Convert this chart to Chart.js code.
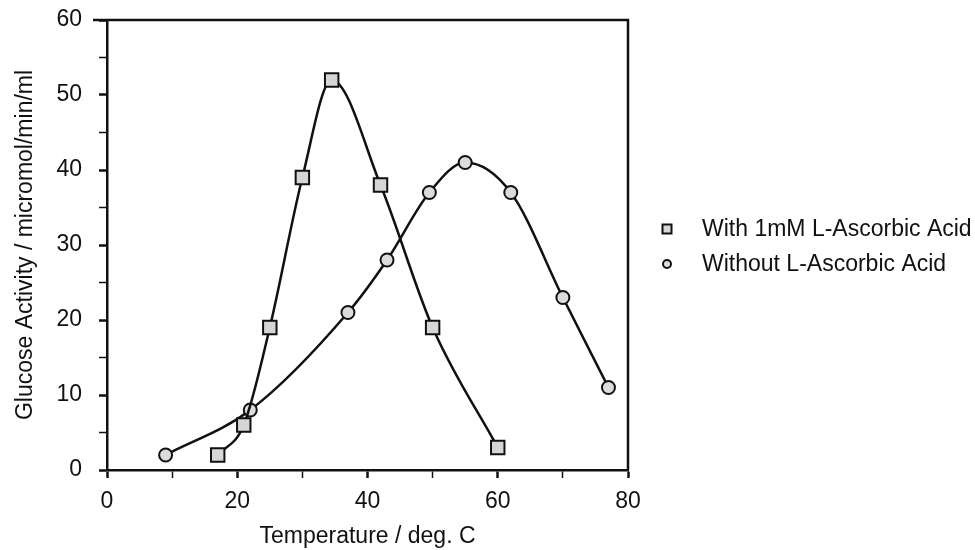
<!DOCTYPE html>
<html>
<head>
<meta charset="utf-8">
<script src="https://cdn.jsdelivr.net/npm/chart.js@4/dist/chart.umd.min.js"></script>
<style>
    html, body { margin: 0; padding: 0; background: #fff; }
    #wrap { width: 975px; height: 550px; }
</style>
</head>
<body>
<div id="wrap"><canvas id="chart" width="975" height="550"></canvas></div>
<script>
"use strict";

// values
const tempWithAcid = [17, 21, 25, 30, 34.5, 42, 50, 60];
const activityWithAcid = [2, 6, 19, 39, 52, 38, 19, 3];
const tempWithoutAcid = [9, 22, 37, 43, 49.5, 55, 62, 70, 77];
const activityWithoutAcid = [2, 8, 21, 28, 37, 41, 37, 23, 11];
const seriesLabels = ["With 1mM L-Ascorbic Acid", "Without L-Ascorbic Acid"];
const xTickLabels = [0, 20, 40, 60, 80];
const yTickLabels = [0, 10, 20, 30, 40, 50, 60];

const kFont = "'Liberation Sans', Arial, Helvetica, sans-serif";
const kFontSize = 23;

function toPoints(xs, ys) {
    return xs.map((x, i) => ({ x, y: ys[i] }));
}

// frame on top/right plus a small legend to the right of the plot
const framePlugin = {
    id: "frame",
    afterDraw(chart) {
        const { ctx, chartArea } = chart;
        ctx.save();
        ctx.strokeStyle = "#111";
        ctx.lineWidth = 2.5;
        ctx.beginPath();
        ctx.moveTo(chartArea.left - 14, chartArea.top);
        ctx.lineTo(chartArea.right, chartArea.top);
        ctx.lineTo(chartArea.right, chartArea.bottom);
        ctx.stroke();

        ctx.font = `${kFontSize}px ${kFont}`;
        ctx.textBaseline = "middle";
        chart.data.datasets.forEach((ds, i) => {
            const y = 229 + i * 35;
            const x = chartArea.right + 39;
            ctx.fillStyle = ds.pointBackgroundColor;
            ctx.strokeStyle = "#111";
            ctx.lineWidth = 2;
            ctx.beginPath();
            if (ds.pointStyle === "rect") {
                ctx.rect(x - 4.5, y - 4.5, 9, 9);
            } else {
                ctx.arc(x, y, 4, 0, Math.PI * 2);
            }
            ctx.fill();
            ctx.stroke();
            ctx.fillStyle = "#111";
            ctx.fillText(ds.label, x + 35, y + 1);
        });
        ctx.restore();
    }
};

document.addEventListener("DOMContentLoaded", () => {
    const commonLine = {
        borderColor: "#111",
        borderWidth: 2.5,
        pointBorderColor: "#111",
        pointBorderWidth: 2,
        cubicInterpolationMode: "monotone",
        fill: false
    };
    const tickFont = { family: kFont, size: kFontSize };

    new Chart(document.getElementById("chart").getContext("2d"), {
        type: "line",
        data: {
            datasets: [{
                ...commonLine,
                label: seriesLabels[0],
                data: toPoints(tempWithAcid, activityWithAcid),
                pointStyle: "rect",
                pointRadius: 9.5,
                pointBackgroundColor: "#d6d6d6"
            }, {
                ...commonLine,
                label: seriesLabels[1],
                data: toPoints(tempWithoutAcid, activityWithoutAcid),
                pointStyle: "circle",
                pointRadius: 6.5,
                pointBackgroundColor: "#dcdcdc"
            }]
        },
        options: {
            responsive: false,
            animation: false,
            layout: { padding: { left: 0, top: 20, right: 347, bottom: 0 } },
            plugins: {
                legend: { display: false },
                tooltip: { enabled: false }
            },
            scales: {
                x: {
                    type: "linear",
                    min: 0,
                    max: 80,
                    afterFit(scale) {
                        scale.height = 80;
                        scale.paddingRight = 0;
                    },
                    border: { display: true, color: "#111", width: 2.5 },
                    grid: {
                        drawOnChartArea: false,
                        drawTicks: true,
                        tickLength: 8,
                        tickColor: "#111",
                        tickWidth: (c) => (c.tick && c.tick.value % 20 === 0 ? 2.5 : 1.5)
                    },
                    ticks: {
                        stepSize: 10,
                        padding: 10,
                        color: "#111",
                        font: tickFont,
                        maxRotation: 0,
                        autoSkip: false,
                        callback: (v) => (xTickLabels.includes(v) ? String(v) : "")
                    },
                    title: {
                        display: true,
                        text: "Temperature / deg. C",
                        color: "#111",
                        font: tickFont,
                        padding: { top: 2, bottom: 0 }
                    }
                },
                y: {
                    type: "linear",
                    min: 0,
                    max: 60,
                    afterFit(scale) {
                        scale.width = 107;
                        scale.paddingTop = 0;
                    },
                    border: { display: true, color: "#111", width: 2.5 },
                    grid: {
                        drawOnChartArea: false,
                        drawTicks: true,
                        tickLength: 8,
                        tickColor: "#111",
                        tickWidth: (c) => (c.tick && c.tick.value % 10 === 0 ? 2.5 : 1.5)
                    },
                    ticks: {
                        stepSize: 5,
                        padding: 17,
                        color: "#111",
                        font: tickFont,
                        autoSkip: false,
                        callback: (v) => (yTickLabels.includes(v) ? String(v) : "")
                    },
                    title: {
                        display: true,
                        text: "Glucose Activity / micromol/min/ml",
                        color: "#111",
                        font: tickFont,
                        padding: { top: 12, bottom: 4 }
                    }
                }
            }
        },
        plugins: [framePlugin]
    });
});
</script>
</body>
</html>
